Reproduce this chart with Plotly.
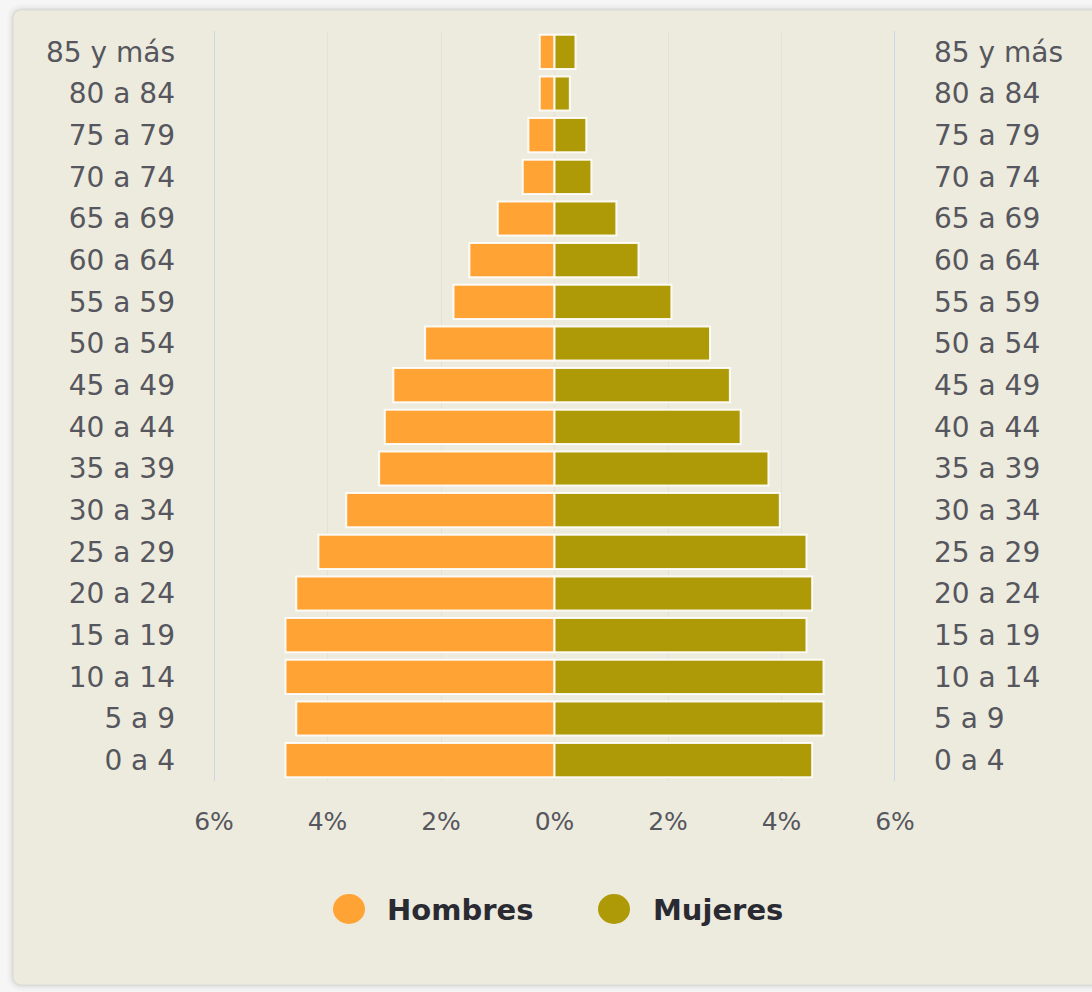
import plotly.graph_objects as go

# Age groups, youngest first (plotted bottom to top)
age_groups = ["0 a 4", "5 a 9", "10 a 14", "15 a 19", "20 a 24", "25 a 29",
              "30 a 34", "35 a 39", "40 a 44", "45 a 49", "50 a 54", "55 a 59",
              "60 a 64", "65 a 69", "70 a 74", "75 a 79", "80 a 84", "85 y más"]

# Share of total population (%) per age group
hombres = [4.74, 4.55, 4.74, 4.74, 4.55, 4.16, 3.67, 3.09, 2.99, 2.84,
           2.28, 1.78, 1.50, 1.00, 0.56, 0.46, 0.26, 0.26]
mujeres = [4.54, 4.74, 4.74, 4.44, 4.54, 4.44, 3.97, 3.77, 3.28, 3.09,
           2.74, 2.06, 1.48, 1.09, 0.65, 0.56, 0.27, 0.37]

x_ticks = [-6, -4, -2, 0, 2, 4, 6]
x_tick_text = ["6%", "4%", "2%", "0%", "2%", "4%", "6%"]

series_names = ["Hombres", "Mujeres"]
series_colors = ["#FFA334", "#AE9907"]

W, H = 1092, 992
L, R, T, B = 214, 197, 31, 211
PW, PH = W - L - R, H - T - B

def px(x):
    return (x - L) / PW

def py(y):
    return (H - B - y) / PH

FONT = "DejaVu Sans"
TICK_COLOR = "#56565e"

fig = go.Figure()

fig.add_trace(go.Bar(
    y=age_groups, x=[-v for v in hombres], orientation="h",
    name=series_names[0], yaxis="y",
    marker=dict(color=series_colors[0], line=dict(color="rgba(255,255,255,0.9)", width=2)),
    customdata=hombres, hovertemplate="%{y}: %{customdata}%<extra>Hombres</extra>",
    showlegend=False,
))
fig.add_trace(go.Bar(
    y=age_groups, x=mujeres, orientation="h",
    name=series_names[1], yaxis="y2",
    marker=dict(color=series_colors[1], line=dict(color="rgba(255,255,255,0.9)", width=2)),
    hovertemplate="%{y}: %{x}%<extra>Mujeres</extra>",
    showlegend=False,
))

shapes = []
# card shadow and card body
def rounded_rect(x0, y0, x1, y1, r):
    rx, ry = r / PW, r / PH
    X0, X1 = px(x0), px(x1)
    Y0, Y1 = py(y0), py(y1)  # Y0 is top (larger)
    return (f"M {X0+rx},{Y0} L {X1-rx},{Y0} Q {X1},{Y0} {X1},{Y0-ry} "
            f"L {X1},{Y1+ry} Q {X1},{Y1} {X1-rx},{Y1} L {X0+rx},{Y1} "
            f"Q {X0},{Y1} {X0},{Y1+ry} L {X0},{Y0-ry} Q {X0},{Y0} {X0+rx},{Y0} Z")

for grow, alpha in [(6, 0.015), (4, 0.025), (2, 0.04)]:
    shapes.append(dict(type="path", xref="paper", yref="paper", layer="below",
                       path=rounded_rect(13 - grow, 10 - grow, 1110, 985 + grow, 10 + grow),
                       fillcolor=f"rgba(0,0,0,{alpha})", line=dict(width=0)))
shapes.append(dict(type="path", xref="paper", yref="paper", layer="below",
                   path=rounded_rect(13, 10, 1110, 985, 9),
                   fillcolor="#EDEBDD", line=dict(color="rgba(0,0,0,0.06)", width=1)))

# outer grid lines at ±6%
for xv in (-6, 6):
    shapes.append(dict(type="line", xref="x", yref="paper", layer="below",
                       x0=xv, x1=xv, y0=0, y1=1,
                       line=dict(color="#C9D5EA", width=2)))

# legend markers
legend_x = [349, 614]
legend_text_x = [387, 653]
legend_y = 909
for cx, col in zip(legend_x, series_colors):
    shapes.append(dict(type="circle", xref="paper", yref="paper",
                       x0=px(cx - 16), x1=px(cx + 16),
                       y0=py(legend_y + 15), y1=py(legend_y - 15),
                       fillcolor=col, line=dict(width=0)))

annotations = []
for tx, name in zip(legend_text_x, series_names):
    annotations.append(dict(xref="paper", yref="paper", x=px(tx - 2), y=py(legend_y + 1),
                            xanchor="left", yanchor="middle", showarrow=False,
                            text=f"<b>{name}</b>",
                            font=dict(family=FONT, size=29, color="#2a2a33")))

yaxis_common = dict(
    type="category", categoryorder="array", categoryarray=age_groups,
    range=[-0.5, len(age_groups) - 0.5], showgrid=False, zeroline=False,
    showline=False, ticks="", ticklabelstandoff=38,
    tickfont=dict(family=FONT, size=28, color=TICK_COLOR),
    fixedrange=True,
)

fig.update_layout(
    width=W, height=H,
    margin=dict(l=L, r=R, t=T, b=B, autoexpand=False),
    paper_bgcolor="#F6F6F6",
    plot_bgcolor="rgba(0,0,0,0)",
    barmode="overlay",
    bargap=0.18,
    showlegend=False,
    xaxis=dict(
        range=[-6, 6], tickmode="array", tickvals=x_ticks, ticktext=x_tick_text,
        showgrid=True, gridcolor="#E3E1D8", gridwidth=1, zeroline=False,
        showline=False, ticks="", ticklabelstandoff=23,
        tickfont=dict(family=FONT, size=25, color=TICK_COLOR),
        fixedrange=True,
    ),
    yaxis=dict(side="left", **yaxis_common),
    yaxis2=dict(side="right", overlaying="y", **yaxis_common),
    shapes=shapes,
    annotations=annotations,
)

fig.write_html("out.html")
